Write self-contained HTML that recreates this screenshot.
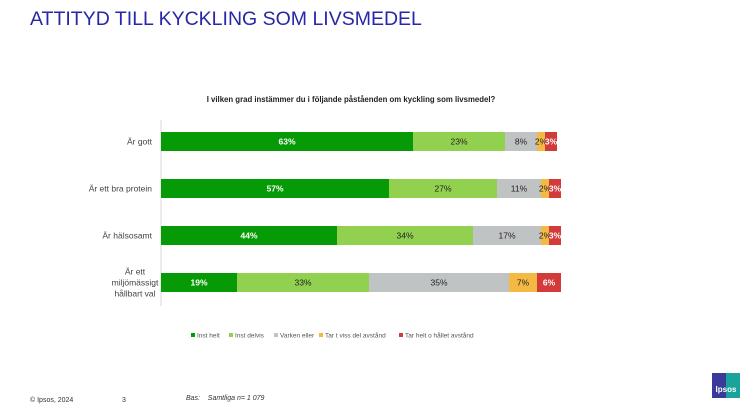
<!DOCTYPE html>
<html><head><meta charset="utf-8"><style>
body{margin:0;width:746px;height:419px;background:#fff;font-family:"Liberation Sans",sans-serif;position:relative;overflow:hidden}
.t{position:absolute;white-space:nowrap}
</style></head><body>
<div class="t" style="left:30px;top:8px;font-size:19.5px;color:#2727a8;">ATTITYD TILL KYCKLING SOM LIVSMEDEL</div>
<div class="t" style="left:201px;width:300px;text-align:center;top:95px;font-size:7.8px;font-weight:bold;color:#222;">I vilken grad instämmer du i följande påståenden om kyckling som livsmedel?</div>
<svg id="chart" width="746" height="419" style="position:absolute;left:0;top:0"></svg>
<div class="t" style="left:30px;top:397px;font-size:7px;color:#333">© Ipsos, 2024</div>
<div class="t" style="left:122px;top:397px;font-size:7px;color:#333">3</div>
<div class="t" style="left:186px;top:395px;font-size:7px;font-style:italic;color:#333">Bas:&nbsp;&nbsp;&nbsp;&nbsp;Samtliga n= 1 079</div>
<div style="position:absolute;left:712px;top:373px;width:28px;height:25px;background:linear-gradient(90deg,#3a3a9a 50%,#1aa39a 50%);color:#fff;font-size:8px;font-weight:bold;text-align:center;line-height:34px">Ipsos</div>
<script>
const categories=["Är gott","Är ett bra protein","Är hälsosamt","Är ett miljömässigt hållbart val"];
const seriesNames=["Inst helt","Inst delvis","Varken eller","Tar t viss del avstånd","Tar helt o hållet avstånd"];
const s1=[63,57,44,19];
const s2=[23,27,34,33];
const s3=[8,11,17,35];
const s4=[2,2,2,7];
const s5=[3,3,3,6];
const series=[s1,s2,s3,s4,s5];
const colors=["#079a07","#92d050","#bfc3c3","#f4b942","#d33b3b"];
const textColors=["#fff","#222","#222","#222","#fff"];
const svg=document.getElementById('chart');
const NS="http://www.w3.org/2000/svg";
const x0=161,pxPer=4.0,yTop=132,step=47,bh=19;
const x=v=>x0+v*pxPer;
const y=i=>yTop+i*step;
function mk(t,a){const e=document.createElementNS(NS,t);for(const k in a)e.setAttribute(k,a[k]);svg.appendChild(e);return e;}
const ax=mk('line',{x1:x0,y1:120,x2:x0,y2:306,stroke:'#d9d9d9','stroke-width':1});


categories.forEach((c,i)=>{
  let acc=0;
  series.forEach((s,k)=>{
    const v=s[i];
    const r=mk('rect',{x:x(acc),y:y(i),width:v*pxPer,height:bh,fill:colors[k]});
    
    
    const tx=mk('text',{x:x(acc+v/2),y:y(i)+bh/2+3,'text-anchor':'middle','font-size':8.5,fill:textColors[k],'font-weight':k==0||k==4?'bold':'normal'});
    tx.textContent=v+'%';
    
    
    acc+=v;
  });
  const lines=i==3?["Är ett","miljömässigt","hållbart val"]:[c];
  lines.forEach((l,j)=>{
    const t=mk('text',{x:i==3?135:152,y:y(i)+bh/2+3+(j-(lines.length-1)/2)*11,'text-anchor':i==3?'middle':'end','font-size':8.5,fill:'#444'});
    t.textContent=l;
    
    
  });
});
const legX=[191,229,274,319,399];
seriesNames.forEach((n,k)=>{
  const r=mk('rect',{x:legX[k],y:333,width:4,height:4,fill:colors[k]});
  
  
  const t=mk('text',{x:legX[k]+6,y:337.5,'font-size':6.5,fill:'#555'});
  t.textContent=n;
  
  
});
</script>
</body></html>
